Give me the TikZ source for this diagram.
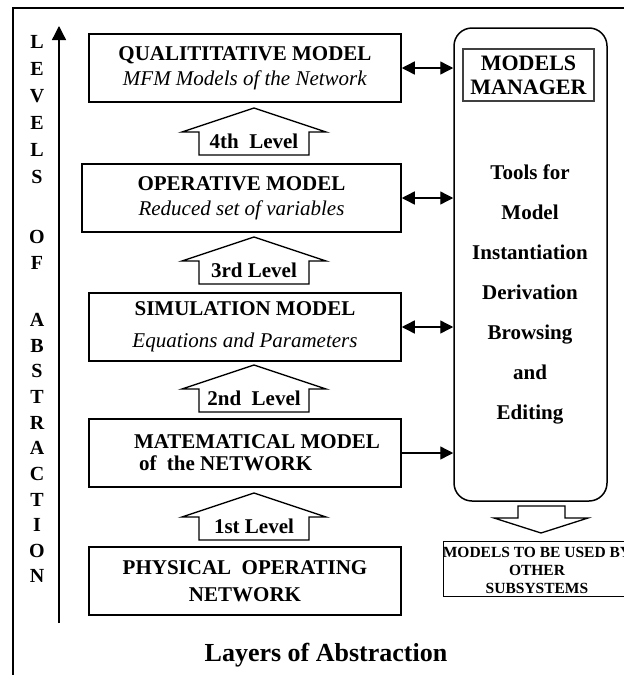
\documentclass[tikz,border=0pt]{standalone}
\usepackage{fontspec}
\setmainfont{Liberation Serif}
\usetikzlibrary{arrows.meta}

\newcommand\fsmain{\fontsize{21}{25}\selectfont}
\newcommand\fsmgr{\fontsize{22}{24}\selectfont}
\newcommand\fstools{\fontsize{21}{40}\selectfont}
\newcommand\fsout{\fontsize{15.5}{18}\selectfont}
\newcommand\fscap{\fontsize{26}{30}\selectfont}
\newcommand\fslet{\fontsize{20}{24}\selectfont}

\begin{document}
\begin{tikzpicture}[x=1pt,y=-1pt,
  modelbox/.style={draw, line width=1.5pt, minimum height=68pt, inner sep=0pt,
                   align=center, font=\fsmain},
  lvlarrow/.style={draw, line width=1.4pt, fill=white, line join=miter},
  lvltext/.style={font=\fsmain\bfseries, inner sep=0pt},
  biarrow/.style={line width=1.4pt, {Triangle[length=13pt,width=13pt]}-{Triangle[length=13pt,width=13pt]}},
  uniarrow/.style={line width=1.4pt, -{Triangle[length=13pt,width=13pt]}},
  letter/.style={font=\fslet\bfseries, inner sep=0pt}
]
\useasboundingbox (0,0) rectangle (624,675);

% outer frame
\draw[line width=1.8pt] (13,690) -- (13,8) -- (650,8);

% axis of the levels of abstraction
\coordinate (axbot) at (59,623);
\coordinate (axtop) at (59,26);
\draw[line width=1.3pt, -{Triangle[length=14pt,width=14pt]}] (axbot) -- (axtop);
\foreach \ch/\yy in {L/42, E/69, V/96, E/123, L/150, S/177, O/237, F/263,
                     A/320, B/346, S/371, T/397, R/423, A/448, C/474, T/500,
                     I/525, O/551, N/576}
  \node[letter] at (37,\yy) {\ch};

% model boxes
\node[modelbox, minimum width=312pt] (qual) at (245,68)
  {\textbf{QUALITITATIVE MODEL}\\\textit{MFM Models of the Network}};
\node[modelbox, minimum width=319pt] (oper) at (241.5,198)
  {\textbf{OPERATIVE MODEL}\\\textit{Reduced set of variables}};
\node[modelbox, minimum width=312pt] (simu) at (245,327)
  {\textbf{SIMULATION MODEL}\\[7pt]\textit{Equations and Parameters}};
\node[modelbox, minimum width=312pt, align=left] (mate) at (245,453)
  {\hspace*{24pt}\textbf{MATEMATICAL MODEL}\\[-3pt]\hspace*{29pt}\textbf{of\ \ the NETWORK}};
\node[modelbox, minimum width=312pt] (phys) at (245,581)
  {\textbf{PHYSICAL\ \ OPERATING}\\[2pt]\textbf{NETWORK}};

% level arrows between the boxes
\foreach \ty/\lab/\nm in {108/4th\ \ Level/lfour, 237/3rd Level/lthree,
                          365/2nd\ \ Level/ltwo, 493/1st Level/lone} {
  \draw[lvlarrow] (254,\ty) -- ++(72,24) -- ++(-17,0) -- ++(0,23) -- ++(-110,0)
                  -- ++(0,-23) -- ++(-17,0) -- cycle;
  \node[lvltext] (\nm) at (254,\ty+33) {\lab};
}

% models manager
\node[draw, line width=1.5pt, rounded corners=18pt, minimum width=153pt,
      minimum height=473pt, inner sep=0pt] (mgr) at (530.5,264.5) {};
\node[draw=black!75, line width=1.2pt, minimum width=131pt, minimum height=52pt,
      inner sep=0pt, align=center, font=\fsmgr\bfseries] (mm) at (528.5,75)
  {MODELS\\MANAGER};
\node[align=center, font=\fstools\bfseries, inner sep=0pt] (tools) at (530,294)
  {Tools for\\Model\\Instantiation\\Derivation\\Browsing\\and\\Editing};

% connectors to the manager
\draw[biarrow] (qual.east) -- (qual.east -| mgr.west);
\draw[biarrow] (oper.east) -- (oper.east -| mgr.west);
\draw[biarrow] (simu.east) -- (simu.east -| mgr.west);
\draw[uniarrow] (mate.east) -- (mate.east -| mgr.west);

% output arrow and box
\draw[lvlarrow, line width=1.3pt] (518,506) -- (565,506) -- (565,518) -- (588,518)
  -- (541,533) -- (494,518) -- (518,518) -- cycle;
\node[draw, line width=1pt, minimum width=190pt, minimum height=55pt, inner sep=0pt]
  (out) at (538,568.5) {};
\node[align=center, font=\fsout\bfseries, inner sep=0pt] (outtext) at (537,570)
  {MODELS TO BE USED BY\\OTHER\\SUBSYSTEMS};

% caption
\node[font=\fscap\bfseries, inner sep=0pt] (caption) at (326,655) {Layers of Abstraction};
\end{tikzpicture}
\end{document}
